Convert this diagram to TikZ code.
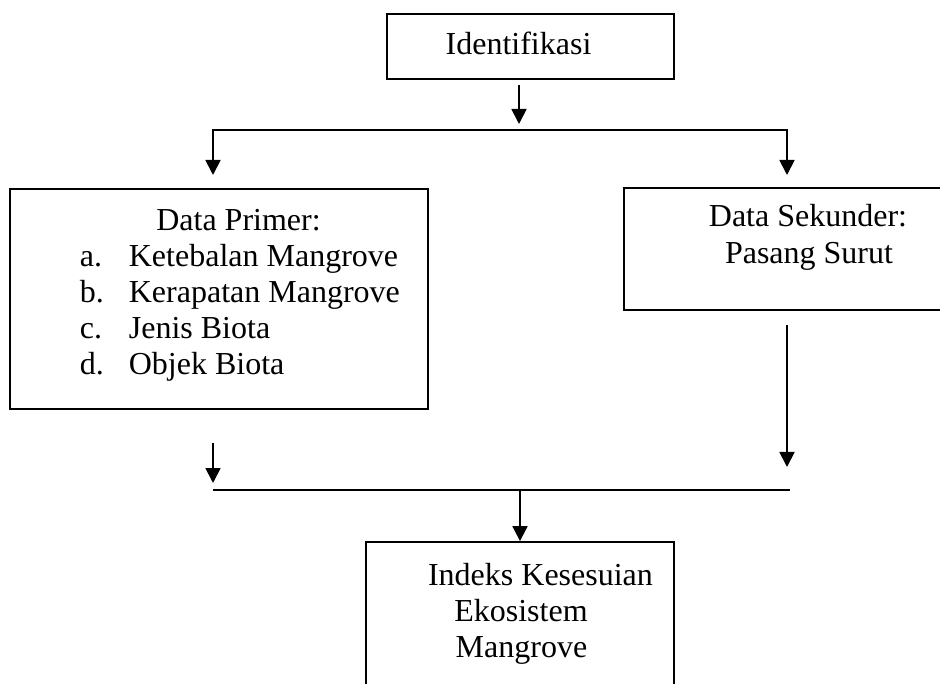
\documentclass[tikz,border=0pt]{standalone}
\usepackage{fontspec}
\setmainfont{Liberation Serif}
\usetikzlibrary{arrows.meta}

\newcommand{\primlab}[1]{\makebox[49pt][l]{#1}}

\begin{document}
\begin{tikzpicture}[x=1pt, y=-1pt, line width=1.8pt,
  >={Triangle[length=15pt, width=15pt]},
  box/.style={draw, rectangle, inner sep=0pt},
  txt/.style={anchor=base, inner sep=0pt, font=\fontsize{32}{36}\selectfont},
  listitem/.style={txt, anchor=base west}]
\useasboundingbox (0,0) rectangle (940,684);
\clip (0,0) rectangle (940,684);
% Identifikasi
\node[box, minimum width=287pt, minimum height=65pt] (ident) at (530.5,46.5) {};
\node[txt] (identtxt) at (518.5,55) {Identifikasi};
% Data Primer
\node[box, minimum width=418pt, minimum height=220pt] (primer) at (219,299) {};
\node[txt] (primerjudul) at (238.5,231) {Data Primer:};
\node[listitem] (primera) at (79,267) {\primlab{a.}Ketebalan Mangrove};
\node[listitem] (primerb) at (79,303) {\primlab{b.}Kerapatan Mangrove};
\node[listitem] (primerc) at (79,339) {\primlab{c.}Jenis Biota};
\node[listitem] (primerd) at (79,375) {\primlab{d.}Objek Biota};
% Data Sekunder
\node[box, minimum width=336pt, minimum height=122pt] (sekunder) at (792,249) {};
\node[txt] (sekunderjudul) at (808,227) {Data Sekunder:};
\node[txt] (sekundersurut) at (809,264) {Pasang Surut};
% Indeks
\node[box, minimum width=308pt, minimum height=178pt] (indeks) at (520,631) {};
\node[txt] (indeksa) at (540.5,585) {Indeks Kesesuian};
\node[txt] (indeksb) at (521,621) {Ekosistem};
\node[txt] (indeksc) at (521.5,657) {Mangrove};
% cabang atas
\coordinate (identout) at (519,85);
\coordinate (identin) at (519,124);
\coordinate (primerin) at (213,175);
\coordinate (lbus) at (213,130);
\coordinate (rbus) at (787,130);
\coordinate (sekunderin) at (787,175);
\draw[->] (identout) -- (identin);
\draw[<->] (primerin) -- (lbus) -- (rbus) -- (sekunderin);
% gabung bawah
\coordinate (primerout) at (213,443);
\coordinate (primerdown) at (213,483);
\coordinate (sekunderout) at (787,325);
\coordinate (sekunderdown) at (787,467);
\coordinate (lbusb) at (213,490);
\coordinate (rbusb) at (790,490);
\draw[->] (primerout) -- (primerdown);
\draw[->] (sekunderout) -- (sekunderdown);
\draw (lbusb) -- (rbusb);
\draw[->] (indeks.north |- lbusb) -- (indeks.north);
\end{tikzpicture}
\end{document}
